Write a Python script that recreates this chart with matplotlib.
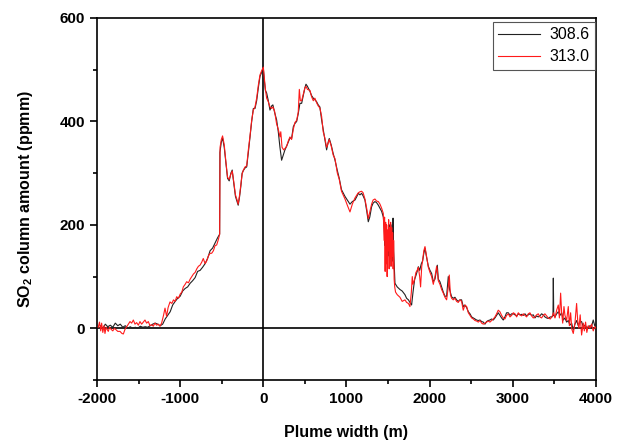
import matplotlib
matplotlib.use("Agg")
import matplotlib.pyplot as plt
from matplotlib.ticker import MultipleLocator

plt.rcParams['font.family'] = ['Liberation Sans', 'DejaVu Sans']
plt.rcParams['mathtext.fontset'] = 'custom'
plt.rcParams['mathtext.rm'] = 'Liberation Sans:bold'
plt.rcParams['mathtext.it'] = 'Liberation Sans:bold'
plt.rcParams['mathtext.bf'] = 'Liberation Sans:bold'
plt.rcParams['axes.unicode_minus'] = False

# series 308.6 (black)
x_3086 = [-1960, -1930, -1900, -1870, -1840, -1810, -1780, -1750, -1720, -1690, -1660, -1630, -1600, -1570,
          -1540, -1510, -1480, -1450, -1420, -1390, -1360, -1330, -1300, -1270, -1240, -1210, -1180, -1150,
          -1120, -1090, -1060, -1030, -1000, -970, -940, -910, -880, -850, -820, -790, -760, -730, -700, -670,
          -640, -610, -580, -550, -525, -522, -505, -490, -470, -450, -430, -410, -390, -374, -355, -335, -315,
          -302, -285, -270, -255, -240, -220, -200, -180, -160, -140, -120, -100, -80, -60, -40, -20, 0, 12, 25,
          40, 60, 80, 100, 115, 135, 160, 180, 200, 220, 240, 260, 280, 300, 320, 340, 361, 380, 401, 420, 440,
          461, 480, 500, 513, 530, 561, 580, 601, 620, 641, 660, 680, 701, 720, 740, 761, 780, 793, 817, 840,
          862, 890, 913, 940, 960, 982, 1010, 1042, 1070, 1102, 1125, 1142, 1162, 1182, 1200, 1222, 1245, 1262,
          1280, 1302, 1320, 1342, 1362, 1383, 1403, 1423, 1443, 1455, 1463, 1470, 1478, 1485, 1492, 1500, 1508,
          1515, 1522, 1530, 1538, 1546, 1553, 1560, 1567, 1575, 1583, 1610, 1643, 1670, 1703, 1723, 1745, 1763,
          1783, 1800, 1820, 1835, 1850, 1864, 1880, 1900, 1915, 1930, 1944, 1960, 1984, 2004, 2024, 2044, 2064,
          2084, 2092, 2104, 2124, 2144, 2164, 2184, 2204, 2224, 2240, 2264, 2284, 2304, 2324, 2344, 2364, 2384,
          2404, 2424, 2445, 2465, 2485, 2505, 2525, 2545, 2565, 2585, 2605, 2625, 2645, 2665, 2685, 2705, 2725,
          2745, 2765, 2785, 2805, 2825, 2845, 2865, 2885, 2905, 2925, 2946, 2966, 2986, 3006, 3026, 3046, 3066,
          3086, 3106, 3126, 3146, 3166, 3186, 3206, 3226, 3246, 3266, 3286, 3306, 3326, 3346, 3366, 3386, 3406,
          3426, 3450, 3470, 3483, 3487, 3492, 3507, 3527, 3547, 3567, 3587, 3607, 3627, 3647, 3667, 3687, 3707,
          3727, 3747, 3767, 3787, 3807, 3827, 3847, 3867, 3887, 3907, 3927, 3947, 3967, 3985, 4000]
y_3086 = [5, 0, 8, 3, 6, 2, 10, 5, 8, 2, 5, 0, 3, 0,
          2, 0, 4, 2, 3, 2, 5, 8, 10, 8, 5, 8, 18, 25,
          32, 45, 52, 58, 62, 72, 77, 80, 87, 92, 98, 110, 112, 118, 125, 135,
          150, 155, 165, 175, 182, 340, 360, 368, 350, 320, 290, 285, 300, 306, 280, 255, 245,
          238, 255, 275, 300, 305, 310, 312, 340, 370, 400, 425, 425, 440, 465, 487, 495, 503, 480, 460,
          455, 440, 422, 430, 432, 418, 403, 380, 350, 325, 335, 345, 352, 360, 368, 367, 390, 396, 400, 415, 435,
          435, 450, 465, 472, 468, 458, 450, 445, 442, 438, 432, 428, 403, 385, 365, 345, 360, 367, 354, 338,
          325, 305, 290, 268, 262, 255, 248, 240, 245, 248, 255, 261, 258, 261, 256, 248, 225, 206,
          215, 235, 242, 245, 243, 238, 232, 226, 215, 190, 160, 200, 135, 190, 125, 180, 140,
          200, 120, 185, 140, 200, 130, 213, 150, 120, 87, 80, 75, 72, 65, 58, 55, 50,
          45, 70, 95, 102, 110, 119, 112, 125, 130, 145, 155, 140, 120, 112, 106, 90, 95,
          115, 122, 95, 90, 80, 70, 62, 62, 100, 75, 61, 58, 60, 55, 52, 55, 55,
          42, 45, 40, 32, 28, 22, 20, 18, 16, 15, 16, 13, 12, 8, 13, 15, 16,
          18, 16, 20, 25, 30, 25, 20, 16, 22, 30, 30, 25, 28, 28, 26, 24, 28,
          26, 27, 25, 28, 24, 26, 28, 25, 26, 20, 24, 22, 24, 28, 26, 22, 20,
          19, 22, 22, 25, 97, 25, 22, 28, 32, 25, 30, 16, 20, 12, 15, 6, 10,
          -3, 8, 15, 5, 12, 13, 3, 6, 2, 2, 5, 4, 16, 5, 8]

# series 313.0 (red)
x_3130 = [-1985, -1970, -1955, -1944, -1930, -1915, -1904, -1890, -1875, -1864, -1850, -1830, -1810, -1790,
          -1770, -1750, -1723, -1700, -1683, -1663, -1643, -1623, -1603, -1583, -1563, -1543, -1523, -1503,
          -1483, -1463, -1443, -1423, -1403, -1383, -1363, -1343, -1323, -1303, -1283, -1263, -1243, -1223,
          -1200, -1182, -1163, -1145, -1122, -1100, -1080, -1060, -1042, -1020, -1000, -980, -962, -940, -922,
          -900, -880, -860, -840, -820, -800, -780, -761, -740, -722, -700, -682, -660, -640, -621, -600, -580,
          -561, -540, -525, -520, -505, -490, -470, -450, -430, -410, -390, -374, -355, -335, -315, -302, -285,
          -270, -255, -240, -220, -200, -180, -160, -140, -120, -100, -80, -60, -40, -20, 0, 12, 25, 40, 60, 80,
          100, 115, 135, 160, 180, 200, 210, 225, 245, 262, 280, 300, 320, 340, 361, 380, 401, 420, 433, 445, 461,
          480, 500, 513, 530, 561, 580, 601, 620, 641, 660, 680, 701, 720, 740, 761, 780, 793, 817, 840, 862, 890,
          913, 940, 960, 982, 1010, 1042, 1070, 1102, 1125, 1142, 1162, 1182, 1200, 1222, 1245, 1262, 1280, 1302,
          1320, 1342, 1362, 1383, 1403, 1423, 1443, 1452, 1458, 1465, 1471, 1477, 1483, 1489, 1495, 1501, 1507,
          1513, 1519, 1525, 1531, 1537, 1543, 1549, 1555, 1561, 1567, 1573, 1580, 1590, 1610, 1643, 1670, 1703,
          1723, 1745, 1763, 1780, 1791, 1800, 1820, 1835, 1850, 1864, 1880, 1891, 1905, 1915, 1930, 1944, 1960,
          1984, 2004, 2024, 2044, 2064, 2084, 2092, 2104, 2124, 2144, 2164, 2184, 2204, 2224, 2236, 2250, 2264,
          2284, 2304, 2324, 2344, 2364, 2384, 2404, 2424, 2445, 2465, 2485, 2505, 2525, 2545, 2565, 2585, 2605,
          2625, 2645, 2665, 2685, 2705, 2725, 2745, 2765, 2785, 2805, 2825, 2845, 2865, 2885, 2905, 2925, 2946,
          2966, 2986, 3006, 3026, 3046, 3066, 3086, 3106, 3126, 3146, 3166, 3186, 3206, 3226, 3246, 3266, 3286,
          3306, 3326, 3346, 3366, 3386, 3406, 3426, 3450, 3470, 3490, 3507, 3527, 3547, 3560, 3575, 3587, 3600,
          3615, 3627, 3647, 3667, 3680, 3695, 3710, 3727, 3747, 3767, 3780, 3795, 3810, 3827, 3847, 3860, 3875,
          3890, 3907, 3927, 3947, 3967, 3985, 4000]
y_3130 = [2, 12, -5, 10, -8, 5, -10, 2, -3, -6, 2, -2, -5, 0,
          -3, -6, -6, -10, -11, -2, 3, 8, 13, 10, 16, 8, 11, 6,
          13, 8, 12, 16, 10, 13, 5, 7, 4, 10, 6, 8, 4, 10,
          25, 39, 23, 40, 51, 48, 55, 52, 61, 58, 66, 70, 80, 85, 90,
          88, 95, 100, 105, 108, 115, 120, 122, 128, 135, 125, 130, 140, 145, 145, 150, 160,
          161, 172, 182, 350, 365, 372, 355, 322, 292, 288, 298, 304, 283, 258, 248, 240, 258,
          278, 298, 306, 312, 314, 345, 372, 402, 422, 428, 445, 470, 490, 498, 505, 485, 462, 445, 438, 428,
          425, 428, 420, 395, 385, 370, 380, 350, 345, 348, 352, 362, 370, 365, 385, 398, 402, 418, 462, 440, 440,
          452, 465, 468, 462, 460, 448, 440, 445, 436, 430, 426, 410, 380, 368, 350, 358, 365, 352, 335, 328, 300,
          288, 265, 258, 250, 238, 225, 240, 252, 258, 262, 264, 265, 262, 250, 230, 212, 225, 240,
          248, 250, 246, 245, 240, 232, 222, 170, 215, 110, 205, 125, 200, 100, 190, 150, 210,
          115, 195, 135, 205, 120, 195, 140, 185, 115, 170, 95, 80, 70, 65, 60, 52, 55,
          50, 48, 42, 70, 100, 85, 95, 108, 112, 118, 100, 80, 120, 130, 150, 158, 142,
          118, 108, 100, 85, 100, 120, 112, 92, 85, 75, 68, 60, 55, 80, 103, 65, 58,
          55, 58, 52, 50, 55, 52, 35, 45, 42, 30, 25, 20, 18, 15, 14, 12, 15,
          10, 8, 10, 12, 14, 12, 15, 18, 22, 28, 35, 32, 25, 20, 18, 25, 28,
          22, 25, 30, 28, 22, 30, 26, 24, 28, 25, 22, 28, 30, 24, 20, 22, 26,
          28, 22, 20, 25, 28, 24, 20, 18, 22, 30, 20, 35, 45, 20, 68, 30, 10,
          42, 25, 15, 42, 5, 30, -2, -10, 10, 48, 15, 0, 26, -13, 10, -5, 12,
          -8, 5, 0, 8, -5, 3, 0]

fig, ax = plt.subplots(figsize=(6.31, 4.41), dpi=100)
fig.subplots_adjust(left=0.1537, right=0.9445, bottom=0.1383, top=0.9592)

ax.plot(x_3086, y_3086, color='#222222', lw=0.8, label='308.6', zorder=3)
ax.plot(x_3130, y_3130, color='#ff1a1a', lw=0.8, label='313.0', zorder=4)
ax.axhline(0, color='black', lw=1.2, zorder=2)
ax.axvline(0, color='black', lw=1.2, zorder=2)

ax.set_xlim(-2000, 4000)
ax.set_ylim(-100, 600)
ax.xaxis.set_major_locator(MultipleLocator(1000))
ax.xaxis.set_minor_locator(MultipleLocator(500))
ax.yaxis.set_major_locator(MultipleLocator(200))
ax.yaxis.set_minor_locator(MultipleLocator(100))
ax.tick_params(which='both', direction='out', top=False, right=False, width=1.2)
ax.tick_params(which='major', length=5, labelsize=11)
ax.tick_params(which='minor', length=3)
for lbl in ax.get_xticklabels() + ax.get_yticklabels():
    lbl.set_fontweight('bold')
for sp in ax.spines.values():
    sp.set_linewidth(1.2)

ax.set_xlabel('Plume width (m)', fontsize=11.5, fontweight='bold', labelpad=14)
ax.set_ylabel('SO$_2$ column amount (ppmm)', fontsize=11.5, fontweight='bold', labelpad=18)

leg = ax.legend(loc='upper right', bbox_to_anchor=(0.998, 0.99), fontsize=11.5, fancybox=False,
                framealpha=1, edgecolor='#555555', borderaxespad=0, handlelength=2.6,
                borderpad=0.35, labelspacing=0.45, handletextpad=0.6)
leg.get_frame().set_linewidth(0.8)

fig.savefig('out.png', dpi=100)
